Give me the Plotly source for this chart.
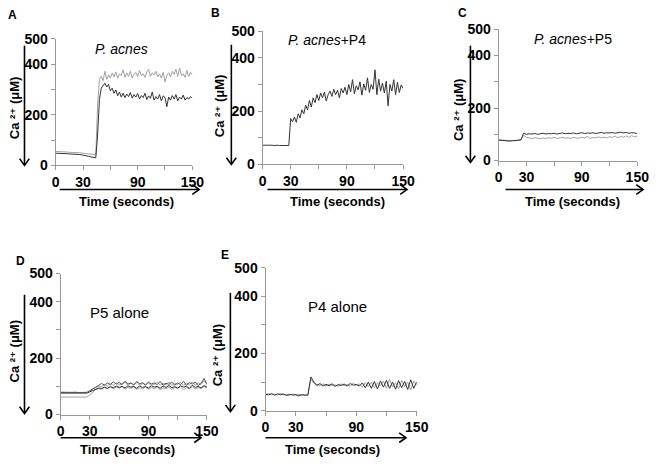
import plotly.graph_objects as go

W, H = 660, 465

# ---------------- data ----------------
TIME_2S = list(range(0, 151, 2))
TIME_3S = list(range(0, 151, 3))

# Panel A: P. acnes
A_gray = [55, 55, 54, 54, 54, 53, 53, 52, 52, 52, 51, 51, 50, 50, 49, 48, 47, 46, 45, 44, 43, 42, 42,
          240, 340, 352, 335, 372, 340, 358, 345, 365, 350,
          370, 345, 362, 355, 378, 348, 366, 352, 372, 345,
          360, 368, 350, 375, 355, 362, 348, 370, 380, 352,
          365, 358, 372, 350, 362, 345, 368, 330, 355, 366,
          350, 372, 360, 380, 352, 385, 355, 362, 348, 375,
          352, 368, 358]
A_dark = [48, 48, 47, 47, 47, 46, 46, 46, 45, 45, 45, 44, 44, 43, 42, 41, 40, 38, 36, 34, 32, 31, 30,
          120, 260, 305, 318, 325, 310, 320, 295, 305, 285,
          298, 275, 290, 270, 285, 268, 282, 272, 288, 266,
          280, 270, 284, 262, 276, 268, 285, 260, 275, 265,
          290, 258, 272, 262, 280, 255, 275, 268, 232, 270,
          258, 276, 262, 280, 255, 270, 262, 278, 258, 268,
          262, 272, 265]

# Panel B: P. acnes + P4
B_dark = [72, 73, 72, 72, 73, 72, 71, 72, 72, 71, 72, 71, 71, 71, 71,
          172, 160, 178, 158, 190, 175, 205, 190, 222, 205,
          240, 215, 250, 232, 262, 240, 268, 250, 272, 238,
          262, 275, 255, 282, 262, 278, 250, 285, 268, 290,
          262, 300, 272, 318, 265, 295, 280, 310, 260, 302,
          278, 325, 270, 300, 282, 355, 262, 320, 275, 305,
          268, 312, 220, 300, 275, 318, 262, 308, 270, 298,
          285]

# Panel C: P. acnes + P5
C_upper = [78, 77, 76, 75, 74, 76, 77, 78, 78,
           104, 100, 102, 101, 103, 100, 102, 104, 101, 103,
           102, 104, 101, 103, 105, 102, 104, 103, 105, 102,
           104, 106, 103, 105, 104, 106, 103, 105, 107, 104,
           106, 105, 107, 104, 106, 108, 105, 107, 104, 106,
           105, 103]
C_lower = [79, 78, 77, 76, 75, 75, 76, 77, 79,
           96, 88, 86, 84, 87, 85, 83, 86, 84, 87,
           85, 88, 84, 86, 89, 85, 87, 84, 88, 86,
           85, 89, 86, 92, 84, 88, 86, 90, 87, 89,
           86, 91, 88, 93, 87, 92, 89, 94, 88, 95,
           90, 93]

# Panel D: P5 alone
D_1 = [80, 79, 80, 79, 79, 80, 78, 79, 78, 79,
       86, 92, 96, 101, 98, 106, 101, 110, 103, 112,
       104, 109, 115, 103, 111, 106, 117, 104, 110, 107,
       113, 102, 109, 114, 104, 111, 106, 115, 103, 110,
       107, 114, 103, 111, 106, 116, 104, 112, 107, 120,
       108]
D_2 = [76, 77, 76, 76, 77, 76, 76, 75, 76, 76,
       80, 85, 90, 94, 92, 97, 93, 99, 95, 101,
       96, 100, 94, 102, 97, 100, 93, 101, 96, 99,
       94, 102, 97, 100, 93, 101, 96, 103, 95, 99,
       94, 102, 97, 100, 93, 104, 96, 100, 94, 103,
       97]
D_3 = [62, 62, 61, 62, 62, 61, 62, 61, 62, 62,
       70, 80, 88, 92, 90, 96, 92, 98, 91, 97,
       93, 99, 90, 96, 92, 99, 89, 95, 91, 97,
       90, 96, 92, 98, 88, 95, 91, 97, 89, 96,
       92, 98, 88, 95, 91, 99, 90, 96, 92, 100,
       94]
D_4 = [78, 78, 77, 78, 78, 77, 78, 77, 77, 78,
       84, 90, 98, 104, 110, 104, 112, 106, 116, 108,
       114, 106, 118, 108, 112, 105, 116, 109, 113, 104,
       115, 108, 112, 106, 117, 104, 111, 107, 114, 105,
       112, 106, 118, 104, 113, 108, 115, 103, 110, 128,
       106]

# Panel E: P4 alone
E_dark = [58, 55, 60, 54, 59, 56, 58, 53, 57, 55, 56, 52, 56, 54, 55,
          118, 100, 88, 95, 86, 92, 87, 94, 85, 91,
          88, 93, 86, 95, 89, 92, 86, 97, 80, 100,
          78, 102, 76, 104, 82, 106, 78, 100, 75, 105,
          80, 102, 74, 108, 78, 100]
E_gray = [56, 60, 55, 58, 54, 60, 55, 57, 54, 58, 53, 57, 54, 56, 53,
          110, 95, 92, 88, 94, 86, 93, 88, 90, 86,
          94, 87, 92, 85, 96, 88, 94, 82, 98, 84,
          100, 80, 98, 86, 104, 78, 110, 82, 98, 76,
          106, 84, 100, 72, 104, 90]

X_TICKS = [0, 30, 90, 150]
X_MINOR_TICKS = [60, 120]
Y_TICKS = [0, 200, 400, 500]
Y_MINOR_TICKS = [100, 300]

TITLES = ["<i>P. acnes</i>", "<i>P. acnes</i>+P4", "<i>P. acnes</i>+P5", "P5 alone", "P4 alone"]
LETTERS = ["A", "B", "C", "D", "E"]
Y_TITLE = "Ca ²⁺ (μM)"
X_TITLE = "Time (seconds)"

# ---------------- layout geometry (pixels) ----------------
FONT = "Liberation Sans, Arial, DejaVu Sans, sans-serif"
DARK = "#333333"
GRAY = "#a0a0a0"

def PX(x):
    return x / W

def PY(y):
    return 1 - y / H

panels = [
    dict(box=(53, 193, 32, 163), title=(120, 42, 14), letter=(9, 7), ytitle=(11, 104),
         yarrow=(21, 39, 163), xarrow=(188, 57, 200), xtitle=(126, 200)),
    dict(box=(265, 409, 24, 162), title=(331, 33, 14), letter=(217, 5), ytitle=(221, 102),
         yarrow=(233, 38, 162), xarrow=(188, 270, 413), xtitle=(342, 200)),
    dict(box=(507, 649, 22, 158), title=(583, 32, 14), letter=(470, 5), ytitle=(466, 106),
         yarrow=(478, 39, 160), xarrow=(188, 514, 655), xtitle=(583, 200)),
    dict(box=(58, 208, 275, 421), title=(118, 315, 15), letter=(17, 262), ytitle=(11, 356),
         yarrow=(21, 297, 420), xarrow=(445, 58, 202), xtitle=(127, 457)),
    dict(box=(268, 423, 269, 417), title=(342, 309, 15), letter=(226, 256), ytitle=(219, 360),
         yarrow=(232, 295, 418), xarrow=(445, 268, 412), xtitle=(337, 457)),
]

series = [
    [(TIME_2S, A_gray, GRAY), (TIME_2S, A_dark, DARK)],
    [(TIME_2S, B_dark, DARK)],
    [(TIME_3S, C_lower, GRAY), (TIME_3S, C_upper, DARK)],
    [(TIME_3S, D_3, GRAY), (TIME_3S, D_2, DARK), (TIME_3S, D_1, GRAY), (TIME_3S, D_4, "#555555")],
    [(TIME_3S, E_gray, GRAY), (TIME_3S, E_dark, DARK)],
]

fig = go.Figure()
layout = dict(width=W, height=H, margin=dict(l=0, r=0, t=0, b=0),
              paper_bgcolor="white", plot_bgcolor="white", showlegend=False,
              font=dict(family=FONT, color="black"))
annotations = []
shapes = []

def line_shape(x0, y0, x1, y1):
    return dict(type="line", xref="paper", yref="paper", x0=PX(x0), y0=PY(y0),
                x1=PX(x1), y1=PY(y1), line=dict(color="black", width=1.6))

def chevron(points):
    d = "M " + " L ".join(f"{PX(x):.5f},{PY(y):.5f}" for x, y in points)
    return dict(type="path", xref="paper", yref="paper", path=d,
                line=dict(color="black", width=1.6))

for i, (p, tr) in enumerate(zip(panels, series)):
    n = "" if i == 0 else str(i + 1)
    xa, ya = "x" + n, "y" + n
    x0, x1, yt, yb = p["box"]
    axis_common = dict(tickmode="array", ticks="outside", ticklen=4, tickcolor="#999999",
                       showline=True, linecolor="#999999", linewidth=1, showgrid=False,
                       zeroline=False, fixedrange=True,
                       tickfont=dict(family=FONT, size=14, color="black", weight="bold"))
    layout["xaxis" + n] = dict(domain=[PX(x0), PX(x1)], anchor=ya, range=[0, 150],
                               tickvals=X_TICKS,
                               minor=dict(tickmode="array", tickvals=X_MINOR_TICKS,
                                          ticks="outside", ticklen=4, tickcolor="#999999",
                                          showgrid=False),
                               **axis_common)
    layout["yaxis" + n] = dict(domain=[PY(yb), PY(yt)], anchor=xa, range=[0, 500],
                               tickvals=Y_TICKS,
                               minor=dict(tickmode="array", tickvals=Y_MINOR_TICKS,
                                          ticks="outside", ticklen=4, tickcolor="#999999",
                                          showgrid=False),
                               **axis_common)
    for t, v, c in tr:
        fig.add_trace(go.Scatter(x=t, y=v, mode="lines", xaxis=xa, yaxis=ya,
                                 line=dict(color=c, width=1), hoverinfo="skip"))
    tx, ty, ts = p["title"]
    annotations.append(dict(text=TITLES[i], x=PX(tx), y=PY(ty), xref="paper", yref="paper",
                            showarrow=False, xanchor="center", yanchor="middle",
                            font=dict(family=FONT, size=ts, color="black")))
    lx, ly = p["letter"]
    annotations.append(dict(text=LETTERS[i], x=PX(lx), y=PY(ly), xref="paper",
                            yref="paper", showarrow=False, xanchor="center", yanchor="middle",
                            font=dict(family=FONT, size=12, color="black", weight="bold")))
    yx, yy = p["ytitle"]
    annotations.append(dict(text=Y_TITLE, x=PX(yx), y=PY(yy),
                            xref="paper", yref="paper", showarrow=False, textangle=-90,
                            xanchor="center", yanchor="middle",
                            font=dict(family=FONT, size=13, color="black", weight="bold")))
    ax_, atop, abot = p["yarrow"]
    shapes.append(line_shape(ax_, atop, ax_, abot - 1))
    shapes.append(chevron([(ax_ - 5, abot - 7), (ax_, abot), (ax_ + 5, abot - 7)]))
    hy, hx0, hx1 = p["xarrow"]
    shapes.append(line_shape(hx0, hy, hx1 - 1, hy))
    shapes.append(chevron([(hx1 - 7, hy - 5), (hx1, hy), (hx1 - 7, hy + 5)]))
    txx, txy = p["xtitle"]
    annotations.append(dict(text=X_TITLE, x=PX(txx), y=PY(txy), xref="paper",
                            yref="paper", showarrow=False, xanchor="center", yanchor="middle",
                            font=dict(family=FONT, size=13, color="black", weight="bold")))

layout["annotations"] = annotations
layout["shapes"] = shapes
fig.update_layout(**layout)
fig.write_html("out.html", config={"displayModeBar": False},
               post_script="document.body.style.margin='0';document.body.style.overflow='hidden';")
